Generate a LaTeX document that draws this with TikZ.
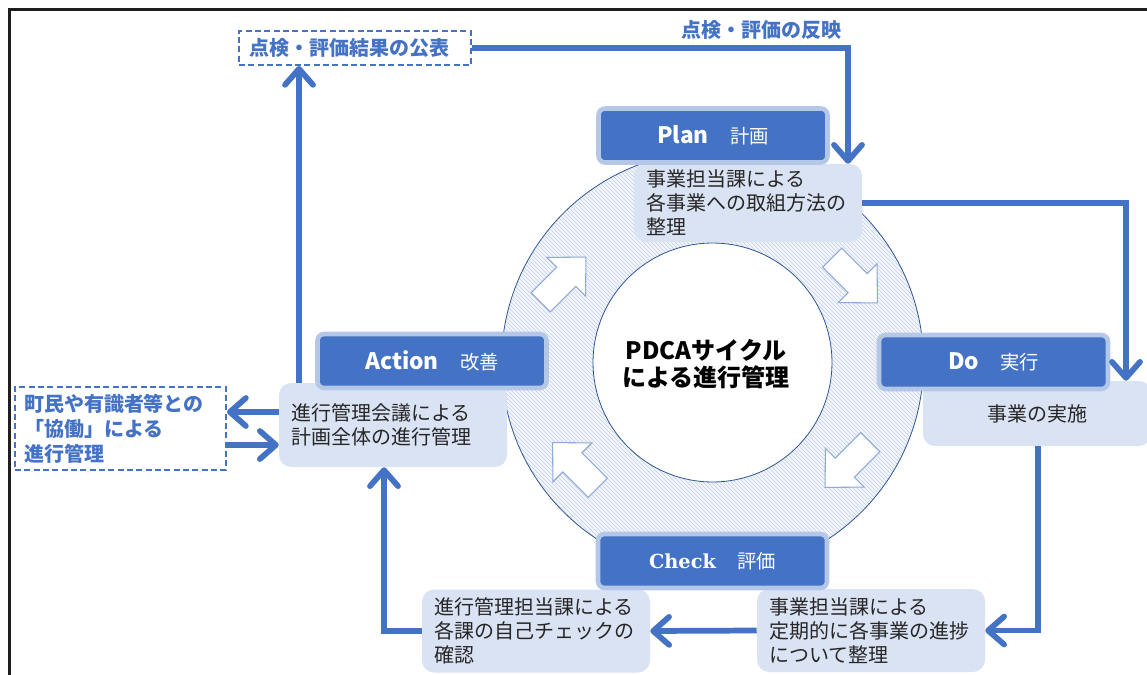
\documentclass[tikz,border=0pt]{standalone}
\usepackage{fontspec}
\setmainfont{Noto Sans CJK JP}
\newfontfamily\checkfont{DejaVu Serif}
\usetikzlibrary{arrows.meta,patterns}
\definecolor{myblue}{HTML}{4472C4}
\definecolor{lborder}{HTML}{B4C7E7}
\definecolor{tfill}{HTML}{DAE3F3}
\definecolor{ringline}{HTML}{2F5597}
\definecolor{hatch}{HTML}{C3D0E8}
\definecolor{ringbg}{HTML}{F4F6FB}
\definecolor{arrline}{HTML}{8EA9DB}
\definecolor{txt}{HTML}{262626}
\definecolor{framec}{HTML}{1E1E1E}
\tikzset{
  lbl/.style={fill=myblue, draw=lborder, line width=3.4pt, rounded corners=5pt,
    minimum width=171.75pt, minimum height=40.5pt, text=white, inner sep=0pt},
  tbox/.style={fill=tfill, rounded corners=9pt, text width=153pt, inner xsep=9pt,
    inner ysep=0pt, align=left, text=txt, font=\fontsize{15}{18}\selectfont},
  dbox/.style={draw=myblue, dash pattern=on 4.5pt off 2.5pt, line width=1.5pt,
    inner ysep=0pt, align=left, text=myblue, font=\bfseries\fontsize{15}{18.75}\selectfont},
  conn/.style={draw=myblue, line width=4.3pt, line join=miter,
    -{Straight Barb[length=12pt,width=21pt,round]}},
  barrowstyle/.style={fill=white, draw=arrline, line width=0.8pt, line join=miter},
  frame/.style={draw=framec, line width=1.6pt},
  ringstyle/.style={draw=ringline, line width=0.6pt}
}
\newcommand\blockarw[3]{\draw[barrowstyle, shift={(#1,#2)}, rotate=#3]
  (-32,-13.5) -- (4,-13.5) -- (4,-27.5) -- (32,0) -- (4,27.5) -- (4,13.5) -- (-32,13.5) -- cycle;}
\begin{document}
\begin{tikzpicture}[x=0.75pt,y=-0.75pt]
\useasboundingbox (0,0) rectangle (1147,675);
\clip (0,0) rectangle (1147,675);
\draw[frame] (9.5,9.5) rectangle (1200,720);

% ring
\fill[ringbg, even odd rule] (712.5,362.5) circle[radius=158.25pt] (712.5,362.5) circle[radius=89.6pt];
\fill[pattern=north west lines, pattern color=hatch, even odd rule] (712.5,362.5) circle[radius=158.25pt] (712.5,362.5) circle[radius=89.6pt];
\draw[ringstyle] (712.5,362.5) circle[radius=158.25pt];
\draw[ringstyle, fill=white] (712.5,362.5) circle[radius=89.6pt];

% block arrows
\blockarw{563.3}{279.7}{45}
\blockarw{854.8}{280.3}{-45}
\blockarw{847.7}{464.8}{-135}
\blockarw{575.2}{465.2}{135}

\node[font=\bfseries\fontsize{18}{20.25}\selectfont, align=center, text=black] (pdca) at (706,364.5) {PDCAサイクル\\による進行管理};

% text boxes
\node[tbox, minimum height=58.5pt] (planT) at (748,203) {事業担当課による\\各事業への取組方法の\\整理};
\node[tbox, minimum height=48.75pt, align=center] (doT) at (1037,413.5) {事業の実施};
\node[tbox, minimum height=62.25pt] (checkT) at (871,630.5) {事業担当課による\\定期的に各事業の進捗\\について整理};
\node[tbox, minimum height=62.25pt] (selfT) at (536,631) {進行管理担当課による\\各課の自己チェックの\\確認};
\node[tbox, minimum height=63pt] (actT) at (393,425) {進行管理会議による\\計画全体の進行管理};

% label boxes
\node[lbl] (plan) at (713,135.5) {{\bfseries\fontsize{17}{20}\selectfont Plan}\hspace{16pt}{\fontsize{14.5}{17}\selectfont 計画}};
\node[lbl] (do) at (993.5,362) {{\bfseries\fontsize{17}{20}\selectfont Do}\hspace{16pt}{\fontsize{14.5}{17}\selectfont 実行}};
\node[lbl] (check) at (712.5,561) {{\checkfont\bfseries\fontsize{14.5}{17}\selectfont Check}\hspace{16pt}{\fontsize{14.5}{17}\selectfont 評価}};
\node[lbl] (act) at (432,361) {{\bfseries\fontsize{17}{20}\selectfont Action}\hspace{16pt}{\fontsize{14.5}{17}\selectfont 改善}};

% dashed boxes
\node[dbox, minimum width=174pt, minimum height=25.5pt, text width=159pt, inner xsep=7.5pt] (pub) at (355,48) {点検・評価結果の公表};
\node[dbox, minimum width=158.25pt, minimum height=62.25pt, text width=144.75pt, inner xsep=6.75pt] (cit) at (120.5,428.5) {町民や有識者等との\\「協働」による\\進行管理};

% label above line
\node[text=myblue, font=\bfseries\fontsize{15}{18}\selectfont] (refl) at (761,29.5) {点検・評価の反映};

% helper coordinates
\coordinate (xr) at (848,0);
\coordinate (xd) at (1126,0);
\coordinate (xc) at (1038,0);
\coordinate (xa) at (384,0);
\coordinate (xu) at (299,0);
\coordinate (ya) at (0,412);
\coordinate (yb) at (0,445);

% connectors
\draw[conn] (pub.east) -| (planT.north -| xr);
\draw[conn] (planT.east) -| (doT.north -| xd);
\draw[conn] (doT.south -| xc) |- (checkT.east);
\draw[conn] (checkT.west) -- (selfT.east);
\draw[conn] (selfT.west) -| (actT.south -| xa);
\draw[conn] (actT.north -| xu) -- (pub.south -| xu);
\draw[conn] (actT.west |- ya) -- (cit.east |- ya);
\draw[conn] (cit.east |- yb) -- (actT.west |- yb);
\end{tikzpicture}
\end{document}
